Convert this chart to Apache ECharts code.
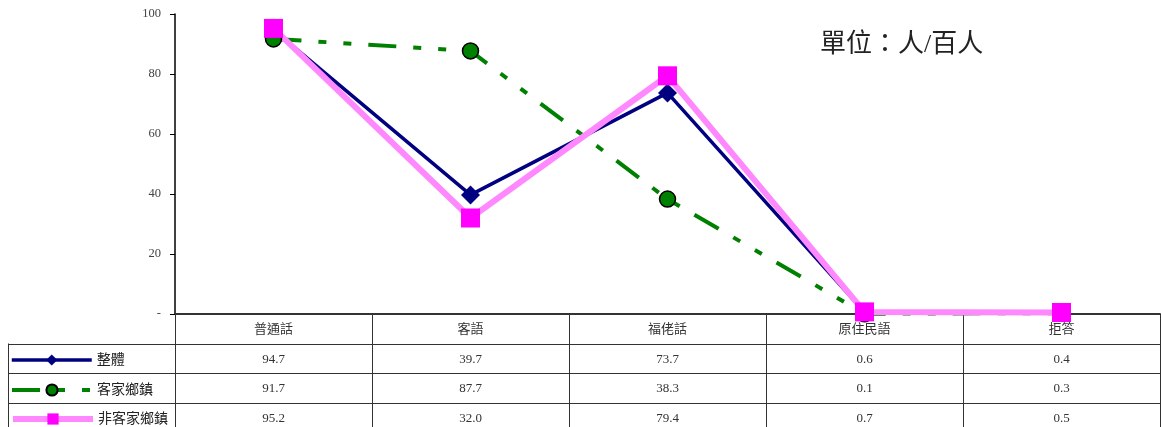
<!DOCTYPE html>
<html>
<head>
<meta charset="utf-8">
<script src="https://cdn.jsdelivr.net/npm/echarts@6/dist/echarts.min.js"></script>
<style>
  html, body { margin: 0; padding: 0; background: #fff; }
  #chart { width: 1162px; height: 427px; }
</style>
</head>
<body>
<div id="chart"></div>
<script>
var categories = ['普通話', '客語', '福佬話', '原住民語', '拒答'];
var seriesNames = ['整體', '客家鄉鎮', '非客家鄉鎮'];
var overall = [94.7, 39.7, 73.7, 0.6, 0.4];
var hakka = [91.7, 87.7, 38.3, 0.1, 0.3];
var nonHakka = [95.2, 32.0, 79.4, 0.7, 0.5];
var yTicks = [0, 20, 40, 60, 80, 100];
var unitText = '單位：人/百人';

var FONT = '"Liberation Serif", "Noto Sans CJK TC", serif';
var gridLeft = 175, gridRight = 2, gridTop = 14, gridBottom = 113;
var W = 1162, H = 427;
var axisY = H - gridBottom;
var rowH = 29.5;

var myChart = echarts.init(document.getElementById('chart'));
var rows = [overall, hakka, nonHakka];
var legendWidths = [3.5, 4, 6];

function valueAxis(idx) {
    return {
        type: 'category',
        data: categories,
        position: 'bottom',
        offset: Math.round(rowH * (idx + 1)),
        axisLine: { show: false },
        axisTick: { show: false },
        axisLabel: {
            margin: 9,
            fontFamily: FONT,
            fontSize: 13,
            color: '#333',
            formatter: function (v, i) { return rows[idx][i].toFixed(1); }
        }
    };
}

// one legend per table row
var legends = seriesNames.map(function (name, i) {
    return {
        orient: 'horizontal',
        left: 10,
        top: Math.round(axisY + rowH * (i + 1.5) - 5),
        padding: 0,
        itemWidth: 80,
        itemHeight: 14,
        textStyle: { fontFamily: FONT, fontSize: 14, color: '#222' },
        data: [{ name: name, lineStyle: { width: legendWidths[i] } }]
    };
});

// table grid lines
var lines = [];
[axisY + rowH, axisY + rowH * 2, axisY + rowH * 3].forEach(function (y) {
    lines.push({ type: 'line', shape: { x1: 8, y1: Math.round(y) + 0.5, x2: W - gridRight, y2: Math.round(y) + 0.5 }, style: { stroke: '#333', lineWidth: 1 } });
});
lines.push({ type: 'line', shape: { x1: 8.5, y1: axisY + rowH, x2: 8.5, y2: H }, style: { stroke: '#333', lineWidth: 1 } });

myChart.setOption({
    animation: false,
    title: {
        text: unitText,
        left: 815,
        top: 27,
        textStyle: { fontFamily: FONT, fontSize: 26, fontWeight: 'normal', color: '#222' }
    },
    legend: legends,
    grid: { left: gridLeft, right: gridRight, top: gridTop, bottom: gridBottom },
    xAxis: [{
        type: 'category',
        data: categories,
        boundaryGap: true,
        axisLine: { lineStyle: { color: '#333', width: 2 } },
        axisTick: { show: true, interval: 0, length: gridBottom, lineStyle: { color: '#333', width: 1 } },
        axisLabel: { margin: 9, fontFamily: FONT, fontSize: 13, color: '#333' }
    }, valueAxis(0), valueAxis(1), valueAxis(2)],
    yAxis: {
        type: 'value',
        min: yTicks[0],
        max: yTicks[yTicks.length - 1],
        interval: 20,
        splitLine: { show: false },
        axisLine: { show: true, lineStyle: { color: '#000', width: 1.5 } },
        axisTick: { show: true, length: 5, lineStyle: { color: '#000' } },
        axisLabel: {
            margin: 14,
            fontFamily: FONT,
            fontSize: 12.5,
            color: '#444',
            formatter: function (v) { return v === 0 ? '-' : v; }
        }
    },
    series: [{
        name: seriesNames[0],
        type: 'line',
        data: overall,
        clip: false,
        symbol: 'diamond',
        symbolSize: 19,
        lineStyle: { color: '#000080', width: 3.5 },
        itemStyle: { color: '#000080' }
    }, {
        name: seriesNames[1],
        type: 'line',
        data: hakka,
        clip: false,
        symbol: 'circle',
        symbolSize: 16,
        lineStyle: { color: '#008000', width: 4, type: [28, 17, 8, 17, 8, 17] },
        itemStyle: { color: '#008000', borderColor: '#000', borderWidth: 1.5 }
    }, {
        name: seriesNames[2],
        type: 'line',
        data: nonHakka,
        clip: false,
        symbol: 'rect',
        symbolSize: 19,
        lineStyle: { color: '#ff88ff', width: 6 },
        itemStyle: { color: '#ff00ff' }
    }],
    graphic: lines
});
</script>
</body>
</html>
